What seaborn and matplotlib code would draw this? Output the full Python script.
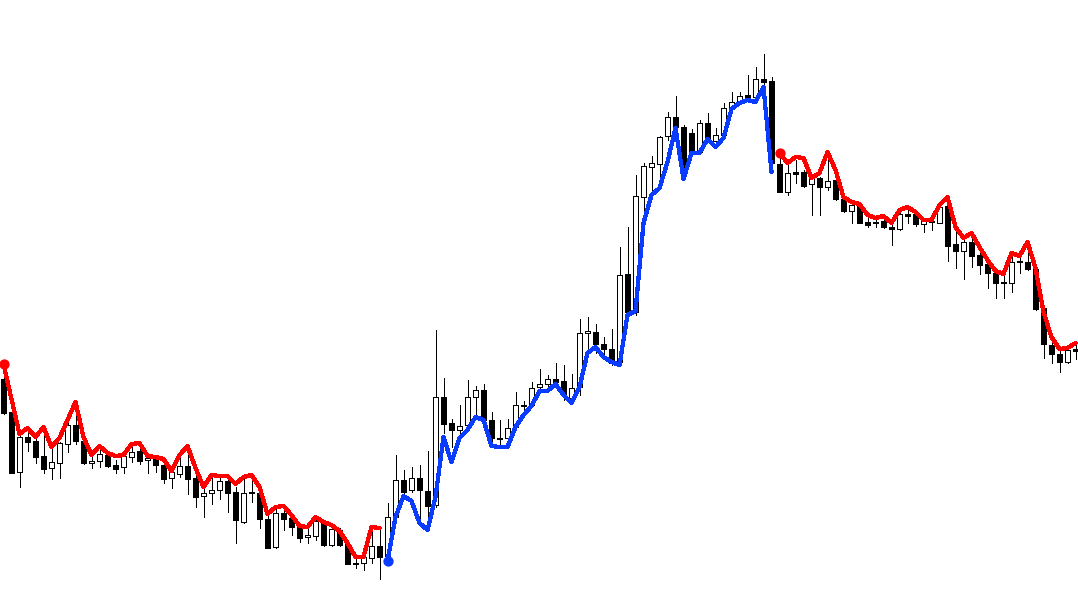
import numpy as np
import pandas as pd
import matplotlib
matplotlib.use("Agg")
import matplotlib.pyplot as plt
import seaborn as sns

sns.set_theme(style="white")
plt.rcParams['lines.antialiased'] = False
plt.rcParams['patch.antialiased'] = False

# OHLC values (arbitrary price units)
opens = [221, 188, 128, 163, 159, 144, 132, 137, 156, 175, 159, 137, 139, 145, 135, 133, 143, 149, 140, 143,
         135, 122, 126, 134, 122, 104, 107, 110, 119, 108, 78, 108, 107, 81, 53, 87, 82, 73, 63, 64,
         77, 55, 70, 56, 37, 37, 42, 54, 44, 83, 120, 110, 122, 109, 95, 203, 177, 170, 175, 203,
         210, 180, 162, 162, 173, 195, 195, 213, 216, 221, 219, 202, 213, 267, 268, 256, 251, 238, 326, 288,
         403, 433, 436, 464, 483, 473, 467, 448, 477, 459, 465, 491, 498, 505, 503, 521, 519, 436, 408, 428,
         428, 416, 422, 413, 420, 401, 389, 395, 378, 378, 379, 373, 371, 386, 386, 376, 379, 377, 394, 356,
         349, 358, 345, 336, 327, 318, 317, 339, 338, 331, 292, 255, 246, 238, 251]
highs = [236, 195, 166, 172, 163, 173, 152, 158, 178, 195, 163, 143, 154, 146, 140, 146, 153, 152, 145, 145,
         139, 132, 145, 153, 127, 113, 122, 123, 123, 113, 122, 123, 113, 85, 91, 93, 87, 77, 72, 83,
         80, 74, 72, 60, 43, 52, 73, 72, 97, 145, 130, 133, 135, 149, 270, 222, 181, 195, 220, 214,
         216, 188, 180, 181, 208, 199, 218, 231, 225, 237, 235, 226, 281, 283, 276, 263, 271, 353, 373, 425,
         437, 444, 464, 488, 504, 475, 471, 480, 487, 472, 497, 508, 508, 525, 533, 546, 523, 443, 435, 440,
         430, 423, 423, 447, 423, 405, 398, 398, 382, 382, 382, 380, 390, 393, 387, 382, 382, 396, 403, 370,
         363, 363, 352, 340, 330, 327, 348, 343, 358, 335, 293, 261, 249, 253, 255]
lows = [186, 127, 113, 149, 137, 127, 121, 122, 148, 156, 136, 132, 133, 133, 127, 127, 138, 136, 127, 128,
        117, 112, 123, 106, 93, 83, 96, 101, 88, 57, 77, 98, 72, 52, 52, 70, 65, 58, 57, 60,
        54, 54, 54, 36, 32, 30, 37, 21, 38, 83, 103, 108, 80, 73, 93, 167, 153, 165, 170, 183,
        180, 155, 155, 155, 172, 187, 193, 208, 212, 213, 200, 198, 205, 250, 247, 243, 235, 237, 285, 285,
        380, 407, 412, 460, 470, 422, 447, 447, 458, 455, 463, 488, 497, 498, 502, 512, 435, 408, 405, 417,
        413, 385, 385, 410, 400, 388, 377, 377, 373, 373, 372, 355, 370, 377, 374, 368, 370, 377, 339, 332,
        321, 333, 326, 312, 302, 302, 308, 327, 330, 290, 242, 237, 228, 237, 241]
closes = [187, 127, 163, 158, 143, 131, 138, 157, 175, 159, 137, 139, 146, 134, 131, 144, 148, 139, 142, 135,
          121, 128, 134, 121, 103, 107, 110, 119, 107, 80, 107, 107, 81, 52, 87, 81, 73, 62, 65, 79,
          55, 71, 55, 36, 36, 43, 54, 43, 83, 120, 108, 122, 110, 94, 203, 176, 170, 174, 203, 210,
          180, 162, 161, 172, 195, 194, 212, 216, 221, 218, 205, 212, 267, 269, 256, 251, 237, 325, 288, 404,
          434, 437, 463, 483, 473, 428, 448, 477, 460, 465, 492, 498, 504, 503, 521, 518, 437, 408, 427, 426,
          414, 422, 413, 419, 401, 389, 395, 377, 375, 377, 373, 371, 386, 384, 376, 379, 378, 393, 354, 349,
          358, 344, 335, 327, 317, 317, 338, 338, 331, 291, 256, 246, 238, 250, 249]

# trailing trend line, one value per candle
trend = [236, 201, 166, 172, 163, 173, 153, 162, 180, 198, 163, 145, 154, 147, 144, 145, 156, 157, 144, 143,
         141, 129, 145, 154, 132, 113, 125, 124, 124, 116, 123, 125, 113, 86, 93, 94, 85, 74, 73, 83,
         78, 75, 69, 57, 43, 43, 73, 72, 39, 83, 104, 99, 77, 70, 103, 163, 138, 162, 170, 183,
         180, 154, 153, 153, 173, 185, 194, 209, 209, 216, 205, 197, 213, 247, 253, 243, 238, 235, 285, 289,
         377, 405, 412, 438, 472, 421, 447, 447, 461, 453, 462, 491, 497, 500, 498, 513, 428, 447, 437, 443,
         442, 422, 427, 448, 430, 403, 398, 396, 385, 382, 384, 377, 390, 393, 388, 380, 380, 395, 403, 373,
         362, 367, 353, 340, 329, 326, 347, 344, 358, 332, 288, 263, 251, 252, 257]

# trend segments: (first candle, last candle, direction)
segments = [(0, 47, "down"), (48, 96, "up"), (97, 134, "down")]
seg_colors = {"down": "#ff0000", "up": "#0a3cff"}

df = pd.DataFrame({"open": opens, "high": highs, "low": lows, "close": closes, "trend": trend})
df["idx"] = np.arange(len(df))

fig = plt.figure(figsize=(10.78, 5.91), dpi=100)
ax = fig.add_axes([0, 0, 1, 1])

# wicks
ax.vlines(df["idx"], df["low"], df["high"], color="black", linewidth=0.72, zorder=1)

# bodies: white for up candles, black for down candles
up = df["close"] >= df["open"]
body_bottom = np.minimum(df["open"], df["close"])
body_height = np.maximum(np.abs(df["close"] - df["open"]), 0.8)
ax.bar(df["idx"], body_height, bottom=body_bottom, width=0.64,
       color=np.where(up, "white", "black"), edgecolor="black", linewidth=0.72, zorder=2)

# trend line segments with start dots
for start, end, direction in segments:
    seg = df.iloc[start:end + 1]
    sns.lineplot(data=seg, x="idx", y="trend", color=seg_colors[direction],
                 linewidth=2.3, ax=ax, zorder=3)
    sns.scatterplot(x=[seg["idx"].iloc[0]], y=[seg["trend"].iloc[0]],
                    color=seg_colors[direction], s=55, linewidth=0, ax=ax, zorder=4)

ax.set_xlim(-0.4375, -0.4375 + 1078 / 8)
ax.set_ylim(9, 600)
ax.set_axis_off()

plt.savefig("out.png", dpi=100, facecolor="white")
plt.close()
